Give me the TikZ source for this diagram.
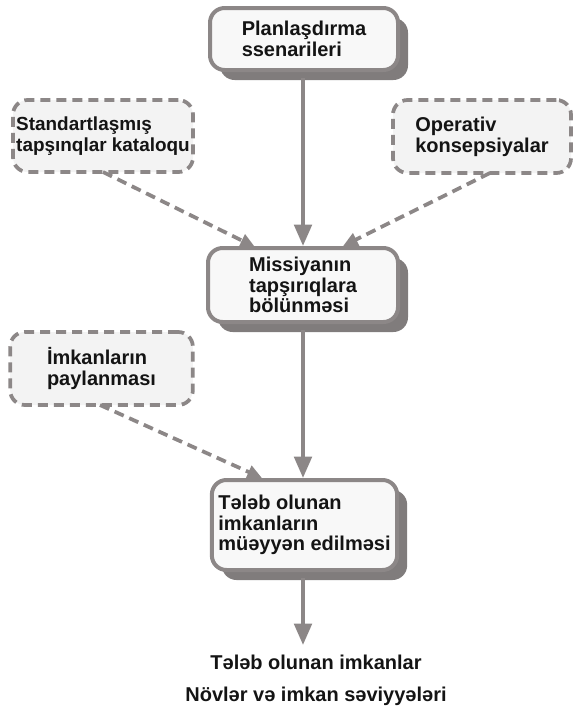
\documentclass[tikz,border=0pt]{standalone}
\usepackage{fontspec}
\setmainfont{Liberation Sans}
\usetikzlibrary{arrows.meta,shadows}
\definecolor{frame}{RGB}{140,135,135}
\definecolor{shade}{RGB}{128,124,124}
\definecolor{boxfill}{RGB}{248,248,248}
\definecolor{dashfill}{RGB}{243,243,243}
\definecolor{ink}{RGB}{20,20,20}
\tikzset{
  stepbox/.style={draw=frame, line width=3pt, fill=boxfill, rounded corners=11pt,
    align=left, inner sep=0pt, text=ink,
    font=\bfseries\fontsize{15}{15.5}\selectfont,
    drop shadow={shadow xshift=7.5pt, shadow yshift=-7.5pt, fill=shade, opacity=1}},
  inputbox/.style={draw=frame, line width=2.8pt, dash pattern=on 7.5pt off 4.5pt,
    fill=dashfill, rounded corners=11pt, align=left, inner sep=0pt, text=ink,
    font=\bfseries\fontsize{15}{16}\selectfont},
  flow/.style={draw=frame, line width=3pt, -{Triangle[length=16pt,width=13pt]}},
  feed/.style={draw=frame, line width=2.8pt, dash pattern=on 7.5pt off 4.5pt,
    -{Triangle[length=11pt,width=10pt]}},
}
\begin{document}
\begin{tikzpicture}[x=0.75pt,y=-0.75pt]
\useasboundingbox (0,0) rectangle (573,711);

% main chain of steps
\node[stepbox, minimum width=141pt, minimum height=46.5pt] (plan) at (304,39)
  {Planlaşdırma\\ssenarileri};
\node[stepbox, minimum width=142.5pt, minimum height=55.5pt] (split) at (303,285)
  {Missiyanın\\tapşırıqlara\\bölünməsi};
\node[stepbox, minimum width=139pt, minimum height=67.5pt] (need) at (304.5,525)
  {Tələb olunan\\imkanların\\müəyyən edilməsi};

% dashed inputs
\node[inputbox, minimum width=135pt, minimum height=54pt,
  font=\bfseries\fontsize{14.2}{16}\selectfont] (catalog) at (103,136)
  {Standartlaşmış\\tapşınqlar kataloqu};
\node[inputbox, minimum width=133.5pt, minimum height=54.75pt] (concept) at (482,136.5)
  {Operativ\\konsepsiyalar};
\node[inputbox, minimum width=137pt, minimum height=54.75pt] (alloc) at (101.5,368.5)
  {İmkanların\\paylanması};

% result text
\node[align=center, text=ink, font=\bfseries\fontsize{15}{24}\selectfont,
  inner sep=0pt] (result) at (316,680)
  {Tələb olunan imkanlar\\Növlər və imkan səviyyələri};

% arrow end points on the step boxes
\coordinate (catIn) at (255,247);
\coordinate (conIn) at (343,246);
\coordinate (allocIn) at (262,478);
\coordinate (outTip) at (303,645);
\coordinate (catOut) at (103,172);
\coordinate (conOut) at (490,173);
\coordinate (allocOut) at (100,405);

% solid flow
\draw[flow] (303,78) -- (split.north -| 303,0);
\draw[flow] (303,330) -- (need.north -| 303,0);
\draw[flow] (303,578) -- (outTip);

% dashed feeds
\draw[feed] (catOut) -- (catIn);
\draw[feed] (conOut) -- (conIn);
\draw[feed] (allocOut) -- (allocIn);
\end{tikzpicture}
\end{document}
